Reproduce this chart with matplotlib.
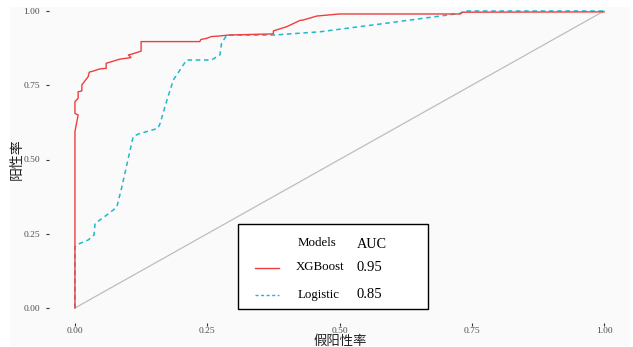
import matplotlib
matplotlib.use("Agg")
import matplotlib.pyplot as plt
from matplotlib.patches import Rectangle
from matplotlib.lines import Line2D

# ROC curve points (false positive rate, true positive rate)
xgb_fpr = [0, 0, 0.006, 0, 0, 0.006, 0.006, 0.013, 0.013, 0.025, 0.027, 0.035,
           0.047, 0.059, 0.059, 0.085, 0.106, 0.101, 0.108, 0.125, 0.125, 0.236,
           0.238, 0.249, 0.258, 0.274, 0.29, 0.375, 0.375, 0.40, 0.425, 0.432,
           0.457, 0.50, 0.728, 0.733, 1.0]
xgb_tpr = [0, 0.594, 0.65, 0.655, 0.695, 0.706, 0.728, 0.731, 0.751, 0.779, 0.794, 0.798,
           0.805, 0.807, 0.824, 0.838, 0.843, 0.852, 0.855, 0.865, 0.897, 0.897,
           0.904, 0.908, 0.914, 0.916, 0.919, 0.923, 0.933, 0.947, 0.968, 0.970,
           0.983, 0.99, 0.99, 0.996, 0.997]

log_fpr = [0, 0, 0.006, 0.025, 0.036, 0.038, 0.054, 0.079, 0.088, 0.110, 0.120,
           0.157, 0.161, 0.173, 0.186, 0.211, 0.258, 0.274, 0.277, 0.287, 0.375,
           0.463, 0.589, 0.728, 0.735, 1.0]
log_tpr = [0, 0.206, 0.215, 0.229, 0.246, 0.285, 0.305, 0.339, 0.403, 0.577, 0.586,
           0.605, 0.622, 0.695, 0.768, 0.835, 0.835, 0.852, 0.891, 0.919, 0.919,
           0.930, 0.959, 0.992, 1.0, 1.0]

model_names = ["XGBoost", "Logistic"]
auc_values = [0.95, 0.85]
model_colors = ["#EF3E3E", "#1FB8CC"]

x_ticks = [0.00, 0.25, 0.50, 0.75, 1.00]
y_ticks = [0.00, 0.25, 0.50, 0.75, 1.00]

W, H = 633, 347
fig = plt.figure(figsize=(W / 100, H / 100), dpi=100, facecolor="white")


def px(x, y):
    """Pixel position (origin top-left) to figure fraction."""
    return x / W, 1 - y / H


# plot background panel
bx, by = px(10, 346)
fig.patches.append(Rectangle((bx, by), 620 / W, 339 / H, transform=fig.transFigure,
                             facecolor="#FAFAFA", edgecolor="none", zorder=-10))

left, bottom = px(48.5, 323)
ax = fig.add_axes([left, bottom, 582 / W, 323 / H])
ax.set_facecolor("none")
ax.set_xlim(-0.05, 1.05)
ax.set_ylim(-(323 - 308) / 297, 1 + 11 / 297)
for s in ax.spines.values():
    s.set_visible(False)

ax.plot([0, 1], [0, 1], color="#BDBDBD", lw=0.9, zorder=1)
ax.plot(log_fpr, log_tpr, color=model_colors[1], lw=1.1, ls=(0, (3, 2.4)), zorder=2)
ax.plot(xgb_fpr, xgb_tpr, color=model_colors[0], lw=1.0, zorder=3)

ax.set_xticks(x_ticks)
ax.set_yticks(y_ticks)
ax.set_xticklabels([f"{v:.2f}" for v in x_ticks])
ax.set_yticklabels([f"{v:.2f}" for v in y_ticks])
ax.tick_params(axis="both", length=2.2, width=0.8, color="#333333",
               labelsize=6.8, labelcolor="#4D4D4D")
ax.tick_params(axis="y", pad=4.0)
ax.tick_params(axis="x", pad=0.6)
for lab in ax.get_xticklabels() + ax.get_yticklabels():
    lab.set_family("Liberation Serif")

cjk = ["Noto Sans CJK SC", "DejaVu Sans"]
ax.set_xlabel("假阳性率", family=cjk, fontsize=9.6, color="#222222", va="center")
ax.xaxis.set_label_coords((340 - 48.5) / 582, (323 - 341) / 323)
ax.set_ylabel("阳性率", family=cjk, fontsize=10, color="#222222", va="center")
ax.yaxis.set_label_coords((16.5 - 48.5) / 582, (323 - 159) / 323)

# legend box with AUC column
lx, ly = px(238, 309)
fig.patches.append(Rectangle((lx, ly), 190 / W, 85 / H, transform=fig.transFigure,
                             facecolor="white", edgecolor="black", lw=1.0, zorder=5))
serif = "Liberation Serif"
fig.text(*px(316.5, 243), "Models", family=serif, fontsize=9.3, ha="center",
         va="center", zorder=6)
fig.text(*px(371.5, 244.5), "AUC", family=serif, fontsize=10.3, ha="center",
         va="center", zorder=6)
rows_y = [267.5, 295]
styles = ["-", (0, (2.2, 1.8))]
name_x = [320, 319]
for name, auc, col, st, yy, nx in zip(model_names, auc_values, model_colors,
                                      styles, rows_y, name_x):
    x0, y0 = px(255, yy)
    x1, _ = px(279, yy)
    fig.lines.append(Line2D([x0, x1], [y0, y0], transform=fig.transFigure,
                            color=col, lw=1.0, ls=st, zorder=6))
    fig.text(*px(nx, yy), name, family=serif, fontsize=9.3, ha="center",
             va="center", zorder=6)
    fig.text(*px(369.5, yy), f"{auc:.2f}", family=serif, fontsize=10.5,
             ha="center", va="center", zorder=6)

fig.savefig("out.png", dpi=100, facecolor="white")
